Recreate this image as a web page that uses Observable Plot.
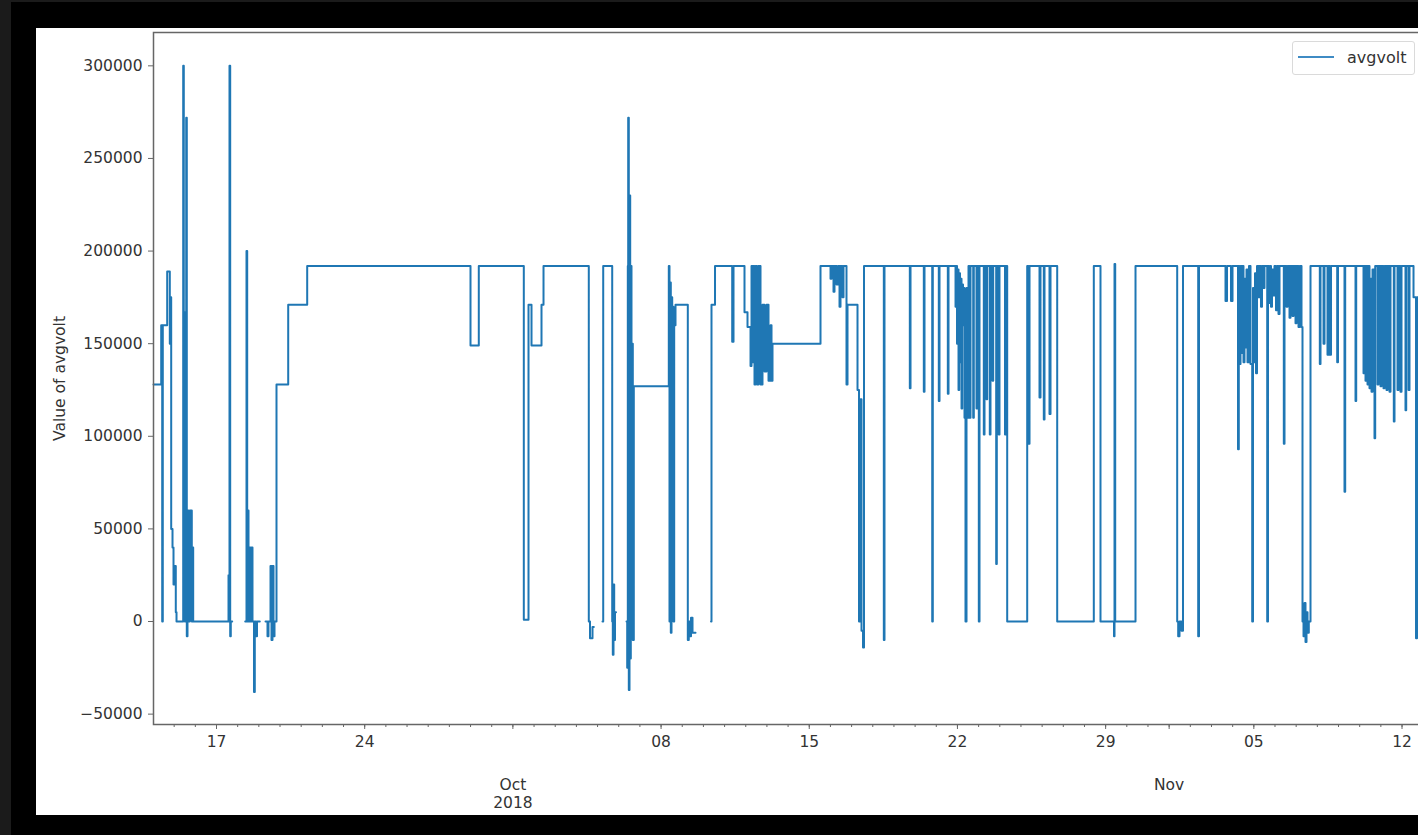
<!DOCTYPE html>
<html><head><meta charset="utf-8">
<script src="https://cdn.jsdelivr.net/npm/d3@7"></script>
<script src="https://cdn.jsdelivr.net/npm/@observablehq/plot@0.6"></script>
<style>
html,body{margin:0;padding:0;width:1418px;height:835px;overflow:hidden;background:#1b1b1b;}
#black{position:absolute;left:11px;top:2px;right:0;bottom:0;background:#000;}
#white{position:absolute;left:36px;top:28px;width:1382px;height:787px;background:#fff;}
#chart{position:absolute;left:0;top:0;width:1420px;height:815px;}
#legend{position:absolute;left:1292px;top:41px;width:123px;height:34px;box-sizing:border-box;border:1px solid #dadada;border-radius:3px;background:rgba(255,255,255,0.85);font-family:"DejaVu Sans";font-size:16px;color:#333;}
#legend .ln{position:absolute;left:5px;top:14px;width:36px;height:2px;background:#3f8bc4;}
#legend .tx{position:absolute;left:54px;top:0;line-height:31px;}
</style></head>
<body>
<div id="black"></div>
<div id="white"></div>
<div id="chart"></div>
<div id="legend"><div class="ln"></div><div class="tx">avgvolt</div></div>
<script>
// time origin for the day offsets below (UTC)
const origin = "2018-09-17T00:00:00Z";
// [days since origin, avgvolt]; null = gap in the series
const readings = [
[-2.976,128000],[-2.612,160000],[-2.565,0],[-2.537,160000],[-2.329,189000],[-2.206,150000],[-2.173,175000],
[-2.140,50000],[-2.078,40000],[-2.031,20000],[-1.984,30000],[-1.923,5000],[-1.889,0],[-1.573,300000],
[-1.545,167000],[-1.497,0],[-1.464,167000],[-1.431,272000],[-1.403,-8000],[-1.370,60000],[-1.323,0],
[-1.261,60000],[-1.228,20000],[-1.195,60000],[-1.167,0],[-1.134,40000],[-1.101,0],
[0.567,25000],[0.614,300000],[0.647,-8000],[0.675,0],[0.742,0],[0.745,null],
[1.356,0],[1.417,200000],[1.450,0],[1.479,60000],[1.512,0],[1.559,40000],[1.606,0],[1.653,40000],[1.700,0],
[1.771,-38000],[1.809,0],[1.866,-8000],[1.913,0],[2.045,0],[2.048,null],
[2.315,0],[2.409,-8000],[2.456,0],[2.551,30000],[2.598,-10000],[2.645,30000],[2.693,-8000],[2.740,0],
[2.834,128000],[3.387,171000],[4.284,192000],[11.998,149000],[12.390,192000],[14.516,1000],[14.738,171000],
[14.880,149000],[15.352,171000],[15.447,192000],[17.586,0],[17.643,-9000],[17.761,-3000],[17.823,-3000],[17.826,null],
[18.233,0],[18.267,192000],[18.692,0],[18.720,-18000],[18.753,20000],[18.786,-10000],[18.824,5000],[18.871,5000],[18.874,null],
[19.367,0],[19.400,-25000],[19.429,192000],[19.447,272000],[19.476,-37000],[19.509,230000],[19.542,-20000],
[19.570,192000],[19.603,0],[19.637,150000],[19.665,-10000],[19.712,127000],[21.365,192000],[21.398,0],
[21.431,183000],[21.460,-6000],[21.493,175000],[21.526,5000],[21.554,170000],[21.587,0],[21.620,160000],
[21.682,171000],[22.263,-10000],[22.310,0],[22.357,-8000],[22.414,2000],[22.485,-6000],[22.627,-6000],[22.630,null],
[23.359,0],[23.382,171000],[23.548,192000],[24.360,151000],[24.422,192000],[24.941,167000],[25.083,159000],
[25.225,138000],[25.272,192000],[25.319,140000],[25.366,192000],[25.413,128000],[25.461,192000],[25.532,128000],
[25.602,192000],[25.697,128000],[25.791,171000],[25.886,135000],[25.980,171000],[26.075,130000],[26.169,160000],
[26.217,130000],[26.264,150000],[28.531,192000],[29.004,185000],[29.051,192000],[29.145,178000],[29.192,192000],
[29.287,182000],[29.358,192000],[29.429,170000],[29.476,192000],[29.570,175000],[29.618,192000],[29.759,128000],
[29.807,171000],[30.279,125000],[30.350,0],[30.421,120000],[30.468,-5000],[30.539,-14000],[30.586,192000],
[31.522,-10000],[31.554,192000],[32.750,126000],[32.783,192000],[33.411,124000],[33.444,192000],[33.808,0],
[33.836,192000],[34.119,119000],[34.153,192000],[34.545,123000],[34.578,192000],[34.909,170000],[34.942,192000],
[34.980,150000],[35.003,190000],[35.050,125000],[35.083,188000],[35.121,140000],[35.144,185000],[35.192,115000],
[35.225,182000],[35.262,160000],[35.286,180000],[35.333,110000],[35.380,0],[35.428,180000],[35.475,110000],
[35.522,192000],[35.569,110000],[35.617,192000],[35.744,110000],[35.773,192000],[35.900,115000],[35.933,192000],
[36.009,0],[36.042,192000],[36.245,101000],[36.278,192000],[36.372,120000],[36.405,192000],[36.528,101000],
[36.561,192000],[36.656,130000],[36.689,192000],[36.830,31000],[36.859,192000],[36.953,101000],[36.986,192000],
[37.246,101000],[37.284,192000],[37.350,0],[38.295,192000],[38.356,96000],[38.404,192000],[38.876,121000],
[38.923,192000],[39.079,109000],[39.112,192000],[39.348,112000],[39.396,192000],[39.712,0],[41.441,192000],
[41.757,0],[42.395,-8000],[42.419,193000],[42.452,0],[43.411,192000],[45.380,0],[45.427,-8000],[45.489,0],
[45.583,-5000],[45.654,192000],[46.372,-8000],[46.410,192000],[47.662,173000],[47.733,192000],[47.922,173000],
[47.993,192000],[48.253,93000],[48.290,192000],[48.323,139000],[48.371,192000],[48.418,145000],[48.465,192000],
[48.512,140000],[48.559,185000],[48.607,148000],[48.654,190000],[48.701,140000],[48.772,192000],[48.843,139000],
[48.923,0],[48.961,180000],[49.008,140000],[49.056,188000],[49.103,134000],[49.150,192000],[49.221,175000],
[49.268,192000],[49.339,170000],[49.386,192000],[49.457,180000],[49.504,192000],[49.632,0],[49.670,192000],
[49.717,172000],[49.764,192000],[49.811,170000],[49.858,190000],[49.929,176000],[49.976,192000],[50.047,168000],
[50.095,192000],[50.165,166000],[50.213,192000],[50.416,96000],[50.449,192000],[50.543,170000],[50.591,192000],
[50.685,164000],[50.732,192000],[50.827,165000],[50.874,192000],[50.969,161000],[51.016,192000],[51.110,159000],
[51.181,192000],[51.252,159000],[51.299,0],[51.347,-8000],[51.394,10000],[51.441,-11000],[51.488,5000],
[51.536,-6000],[51.597,0],[51.677,192000],[52.117,139000],[52.150,192000],[52.292,150000],[52.339,192000],
[52.480,144000],[52.528,192000],[52.598,144000],[52.646,192000],[52.938,140000],[52.976,192000],[53.283,70000],
[53.316,192000],[53.803,119000],[53.836,192000],[54.181,134000],[54.228,192000],[54.275,130000],[54.322,192000],
[54.370,128000],[54.417,192000],[54.464,126000],[54.511,185000],[54.559,124000],[54.606,190000],[54.700,99000],
[54.733,192000],[54.842,128000],[54.889,192000],[54.984,127000],[55.031,192000],[55.125,126000],[55.173,192000],
[55.267,125000],[55.314,192000],[55.409,124000],[55.456,192000],[55.612,108000],[55.645,192000],[55.787,125000],
[55.834,192000],[55.928,124000],[55.976,192000],[56.164,114000],[56.198,192000],[56.307,125000],[56.354,192000],
[56.543,175000],[56.661,-9000],[56.708,175000],[56.873,175000]
];
const yTicks = [-50000, 0, 50000, 100000, 150000, 200000, 250000, 300000];
const yDomain = [-55600, 318000];
const majorTickDates = ["2018-09-17","2018-09-24","2018-10-01","2018-10-08","2018-10-15","2018-10-22","2018-10-29","2018-11-01","2018-11-05","2018-11-12"];
const majorTickLabels = ["17","24","","08","15","22","29","","05","12"];
const monthTickDates = ["2018-10-01","2018-11-01"];
const monthTickLabels = ["Oct\n2018","Nov"];
const yLabel = "Value of avgvolt";

const t0 = new Date(origin).getTime();
const toDate = d => new Date(t0 + d * 864e5);
const data = readings.map(([d, v]) => ({time: toDate(d), value: v}));
const xDomain = [toDate(readings[0][0]), toDate(readings[readings.length - 1][0])];
const majorDates = majorTickDates.map(s => new Date(s + "T00:00:00Z"));
const majorLabelMap = new Map(majorDates.map((d, i) => [+d, majorTickLabels[i]]));
const monthDates = monthTickDates.map(s => new Date(s + "T00:00:00Z"));
const monthLabelMap = new Map(monthDates.map((d, i) => [+d, monthTickLabels[i]]));
const minorDates = d3.utcDay.range(new Date("2018-09-15T00:00:00Z"), new Date("2018-11-13T00:00:00Z"));
const fmtY = d => d < 0 ? "\u2212" + (-d) : String(d);

const ink = "#333", spine = "#666";
const chart = Plot.plot({
  width: 1420, height: 815,
  marginTop: 32, marginBottom: 91, marginLeft: 153, marginRight: 0,
  style: {background: "transparent", fontFamily: "DejaVu Sans", fontSize: "15.5px", color: ink, maxWidth: "none", overflow: "visible"},
  x: {type: "utc", domain: xDomain},
  y: {domain: yDomain},
  marks: [
    Plot.line(data, {x: "time", y: "value", curve: "step-after", stroke: "#1f77b4", strokeWidth: 2}),
    Plot.frame({stroke: spine, strokeWidth: 1.5}),
    Plot.axisY({ticks: yTicks, tickFormat: fmtY, tickSize: 5, tickPadding: 6, stroke: spine, fill: ink, label: null}),
    Plot.axisX({ticks: minorDates, tickSize: 3, tickFormat: () => "", stroke: spine, label: null}),
    Plot.axisX({ticks: majorDates, tickSize: 5, tickPadding: 6, tickFormat: d => majorLabelMap.get(+d), stroke: spine, fill: ink, label: null}),
    Plot.text(monthDates, {x: d => d, text: d => monthLabelMap.get(+d), frameAnchor: "bottom", dy: 53, lineAnchor: "top", lineHeight: 1.15, fill: ink}),
    Plot.text([yLabel], {frameAnchor: "left", text: d => d, rotate: -90, dx: -93, textAnchor: "middle", fill: ink})
  ]
});
document.getElementById("chart").appendChild(chart);
</script>
</body></html>
